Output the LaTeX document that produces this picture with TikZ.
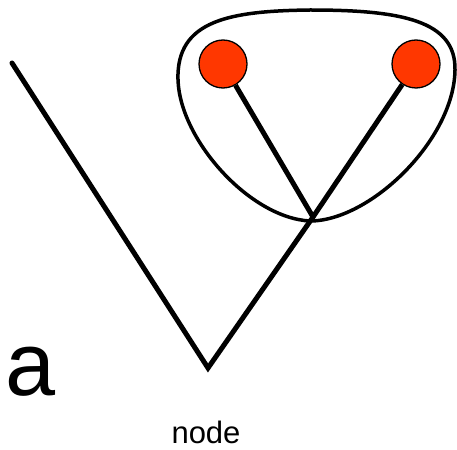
\documentclass[tikz,border=0pt]{standalone}
\usepackage{fontspec}
\setmainfont{Liberation Sans}
\usepackage{tikz}
\usetikzlibrary{positioning}

\definecolor{leafred}{RGB}{255,55,0}

\begin{document}
\begin{tikzpicture}[
  x=1pt, y=-1pt,
  leaf/.style={circle, draw, line width=1.3pt, fill=leafred, minimum size=48pt, inner sep=0pt},
  branch/.style={line width=5pt, line cap=round},
  loop/.style={line width=3.5pt}
]
\useasboundingbox (0,0) rectangle (457,449);

\coordinate (root) at (208,368);
\coordinate (inner) at (313,217);
\coordinate (tip) at (12,63);
\node[leaf] (leafA) at (223,64) {};
\node[leaf] (leafB) at (416,64) {};

% clade loop
\draw[loop] (310,221) .. controls (250,218) and (180,140) .. (178,80)
  .. controls (176,20) and (230,11) .. (310,10)
  .. controls (400,10) and (456,20) .. (455,70)
  .. controls (454,140) and (370,221) .. (310,221) -- cycle;

\draw[branch] (tip) -- (root) -- (inner);
\draw[branch, line cap=butt] (inner) -- (leafA);
\draw[branch, line cap=butt] (inner) -- (leafB);

\node[font=\fontsize{90}{90}\selectfont, anchor=base west, inner sep=0pt] (letter) at (5,395) {a};
\node[font=\fontsize{31}{31}\selectfont, anchor=base, inner sep=0pt] (label) at (206,443) {node};
\end{tikzpicture}
\end{document}
